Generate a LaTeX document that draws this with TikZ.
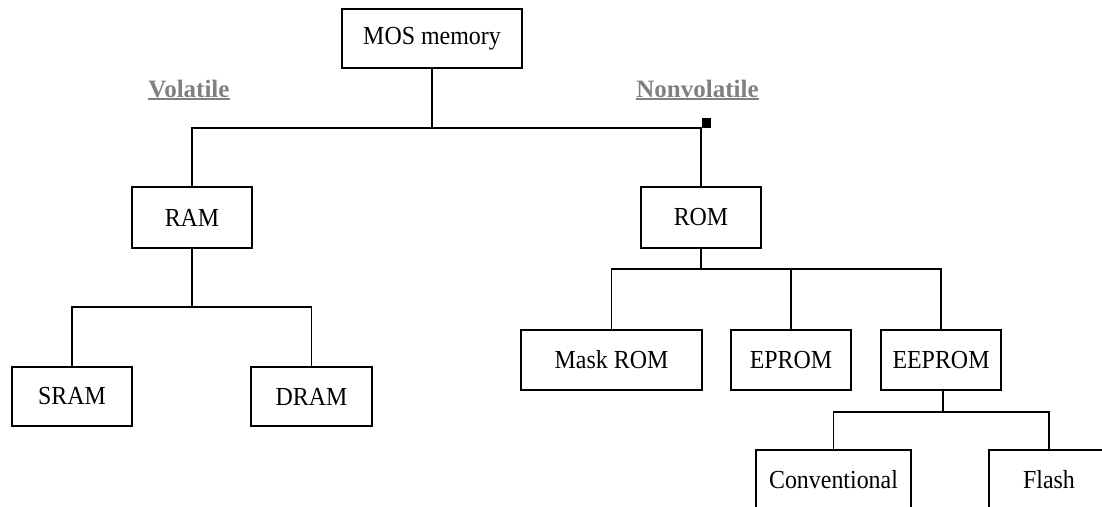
\documentclass[tikz,border=0pt]{standalone}
\usepackage{fontspec}
\setmainfont[FakeStretch=0.92]{Liberation Serif}
\newfontfamily\lblfont{Liberation Serif}
\definecolor{lblgray}{RGB}{128,128,128}
\newcommand\myul[1]{\setbox0\hbox{#1}\rlap{\rule[-3pt]{\wd0}{1.8pt}}\box0}
\begin{document}
\begin{tikzpicture}[x=1pt,y=-1pt,
  box/.style={draw=black,line width=1.3pt,inner sep=0pt,minimum width=120pt,minimum height=60pt,font=\fontsize{26}{30}\selectfont},
  conn/.style={draw=black,line width=1.1pt},
  grp/.style={text=lblgray,font=\lblfont\fontsize{25}{30}\selectfont\bfseries,inner sep=0pt,anchor=base}]
\clip (0,0) rectangle (1102,506);
\node[box,minimum width=180pt,minimum height=59pt] (mos) at (432,38.5) {MOS memory};
\node[box,minimum height=61pt] (ram) at (192,217.5) {RAM};
\node[box,minimum height=61pt] (rom) at (701,217.5) {ROM};
\node[box,minimum height=59pt] (sram) at (72,396.5) {SRAM};
\node[box,minimum width=121pt,minimum height=59pt] (dram) at (311.5,396.5) {DRAM};
\node[box,minimum width=181pt] (mask) at (611.5,360) {Mask ROM};
\node[box] (eprom) at (791,360) {EPROM};
\node[box] (eeprom) at (941,360) {EEPROM};
\node[box,minimum width=155pt] (conv) at (833.5,480) {Conventional};
\node[box] (flash) at (1049,480) {Flash};
\node[grp] (vol) at (189,97) {\myul{Volatile}};
\node[grp] (nonvol) at (697.5,97) {\myul{Nonvolatile}};
\coordinate (b1) at (432,128);
\coordinate (b2) at (192,307);
\coordinate (b3) at (701,269);
\coordinate (b4) at (943,412);
\draw[conn] (mos.south) -- (b1);
\draw[conn] (ram.north) |- (b1) -| (rom.north);
\fill[black] ([xshift=1pt]b1 -| rom.north) rectangle ++(9,-10);
\draw[conn] (ram.south) -- (b2);
\draw[conn] (sram.north) |- (b2) -| (dram.north);
\draw[conn] (rom.south) -- (b3);
\draw[conn] (mask.north) |- (b3) -| (eeprom.north);
\draw[conn] (eprom.north) -- (eprom.north |- b3);
\draw[conn] ([xshift=2pt]eeprom.south) -- (b4);
\draw[conn] (conv.north) |- (b4) -| (flash.north);
\end{tikzpicture}
\end{document}
